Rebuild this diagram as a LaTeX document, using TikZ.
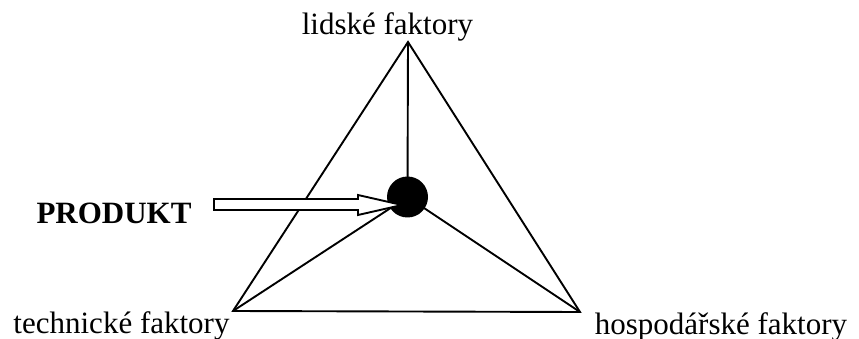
\documentclass[tikz,border=0pt]{standalone}
\usepackage{fontspec}
\setmainfont{Liberation Serif}
\usetikzlibrary{calc}
\begin{document}
\begin{tikzpicture}[x=1pt,y=-1pt,
  edge/.style={line width=1.9pt, line join=miter},
  lbl/.style={inner sep=0pt, anchor=base, font=\fontsize{31}{37}\selectfont},
  dot/.style={circle, fill=black, minimum size=41pt, inner sep=0pt}]
\useasboundingbox (0,0) rectangle (859,339);
\coordinate (T) at (408,42);
\coordinate (L) at (233,311);
\coordinate (R) at (580,312);
\node[dot] (P) at (407.5,197) {};
\draw[edge] (T) -- (L) -- (R) -- cycle;
\draw[edge] (T) -- (P.center);
\draw[edge] (L) -- (P.center);
\draw[edge] (R) -- (P.center);
\node[lbl] (top) at (387.5,35) {lidské faktory};
\node[lbl] (tech) at (121.5,333) {technické faktory};
\node[lbl] (hosp) at (721,334) {hospodářské faktory};
\node[lbl, font=\fontsize{31}{37}\selectfont\bfseries] (prod) at (114,223) {PRODUKT};
\coordinate (as) at (214,204.5);
\coordinate (tip) at (402,205);
\draw[line width=1.9pt, fill=white, line join=miter]
  ($(as)+(0,-5.5)$) -- (358,199) -- (358,195) -- (tip) -- (358,215) -- (358,210) -- ($(as)+(0,5.5)$) -- cycle;
\end{tikzpicture}
\end{document}
